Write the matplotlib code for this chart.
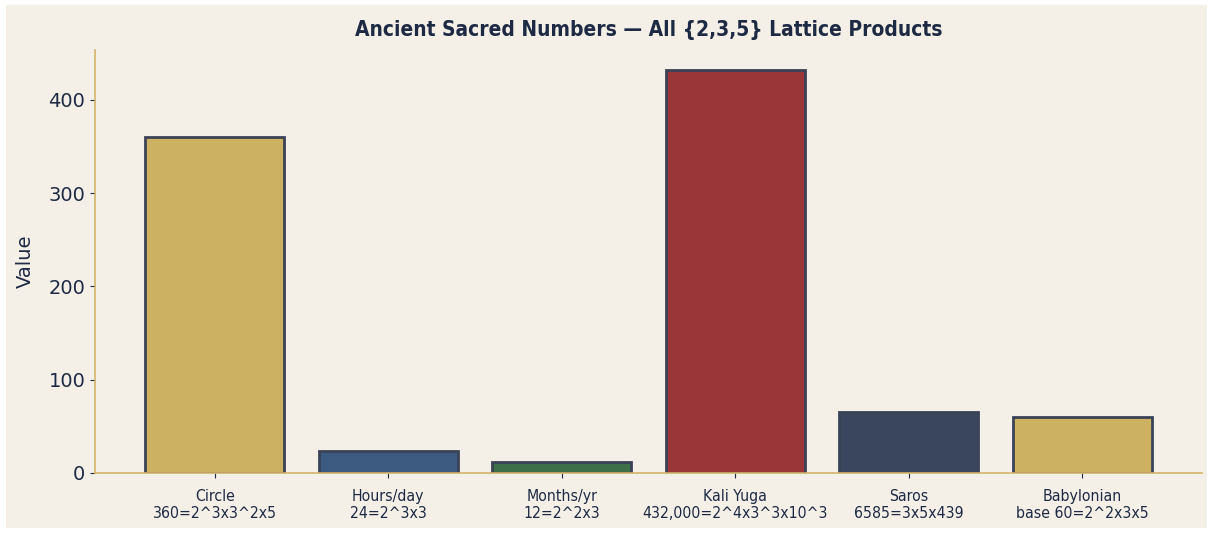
import matplotlib
matplotlib.use("Agg")
import matplotlib.pyplot as plt
from matplotlib.patches import Rectangle

categories = ["Circle\n360=2^3x3^2x5", "Hours/day\n24=2^3x3", "Months/yr\n12=2^2x3",
              "Kali Yuga\n432,000=2^4x3^3x10^3", "Saros\n6585=3x5x439",
              "Babylonian\nbase 60=2^2x3x5"]
values = [360, 24, 12, 432, 65.85, 60]
colors = ["#cdb163", "#3d5a80", "#3d7048", "#9a3638", "#3a465e", "#cdb163"]

BG = "#f4f0e8"
NAVY = "#1e2a44"
GOLD = "#d4b36a"

fig = plt.figure(figsize=(12.13, 5.33), dpi=100, facecolor="white")
fig.patches.append(Rectangle((6/1213, 5/533), 1201/1213, 523/533, transform=fig.transFigure,
                             facecolor=BG, edgecolor="none", zorder=-10))
ax = fig.add_axes([95/1213, 60/533, 1107/1213, 423/533])
ax.set_facecolor(BG)

x = range(len(categories))
ax.bar(x, values, width=0.8, color=colors, edgecolor="#3a4256", linewidth=2)
ax.set_xticks(list(x))
ax.set_xticklabels(categories, fontsize=11.3, color=NAVY, stretch="condensed")
ax.set_ylim(0, max(values) * 1.05)
ax.set_yticks([0, 100, 200, 300, 400])
ax.tick_params(axis="y", labelsize=14, colors=NAVY)
ax.tick_params(axis="x", colors=NAVY, pad=8)
ax.set_ylabel("Value", fontsize=14, color=NAVY, labelpad=10)
ax.set_title("Ancient Sacred Numbers \u2014 All {2,3,5} Lattice Products", fontsize=15,
             fontweight="bold", color=NAVY, stretch="condensed", pad=10)
for s in ["top", "right"]:
    ax.spines[s].set_visible(False)
for s in ["left", "bottom"]:
    ax.spines[s].set_color(GOLD)
    ax.spines[s].set_linewidth(1.2)

fig.savefig("out.png", dpi=100, facecolor="white")
